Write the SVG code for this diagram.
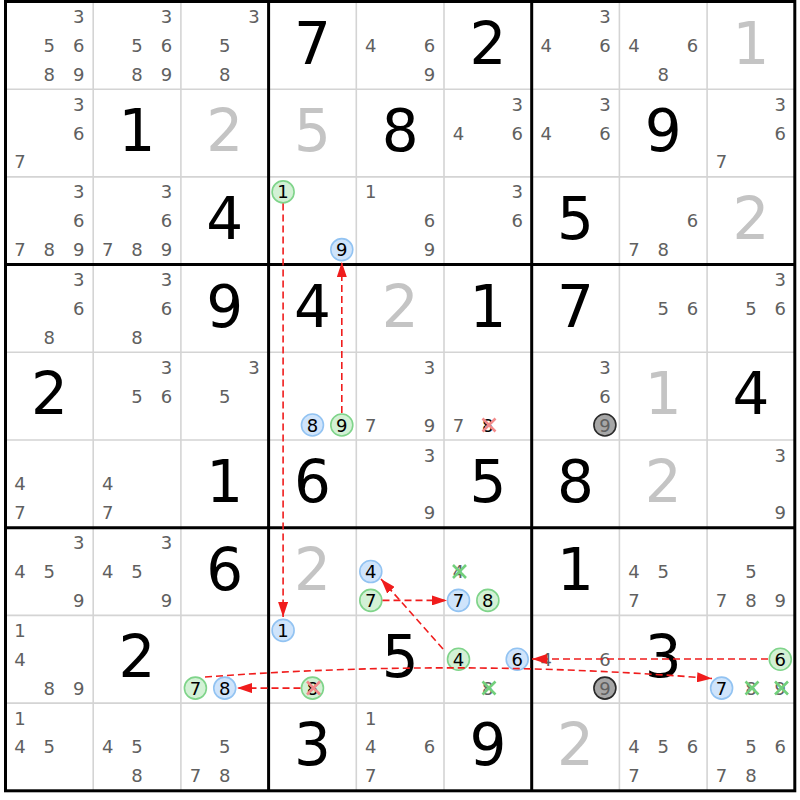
<svg xmlns="http://www.w3.org/2000/svg" width="800" height="800" viewBox="0 0 800 800">
<style>
text{font-family:"DejaVu Sans","Liberation Sans",sans-serif;text-anchor:middle}
.g{font-size:58px;fill:#000}
.s{font-size:58px;fill:#c4c4c4}
.c{font-size:18px;fill:#606060}
.k{font-size:18px;fill:#000}
.thin{stroke:#d4d4d4;stroke-width:1.6}
.thick{stroke:#000;stroke-width:3}
.cb{fill:#cfe4fb;stroke:#92c3f2;stroke-width:1.6}
.cg{fill:#d3f1d5;stroke:#7fd48a;stroke-width:1.6}
.cx{fill:#a6a6a6;stroke:#2a2a2a;stroke-width:1.6}
.xg{stroke:#72d07c;stroke-width:2.6}
.xr{stroke:#f28a8a;stroke-width:2.6}
.ar{fill:none;stroke:#f01c1c;stroke-width:1.6;stroke-dasharray:7,4}
</style>
<defs>
<marker id="ah" markerUnits="userSpaceOnUse" markerWidth="15" markerHeight="10" refX="15" refY="5" orient="auto"><path d="M0,0 L15,5 L0,10 z" fill="#f01c1c"/></marker>
</defs>
<rect width="800" height="800" fill="#fff"/>
<g id="grid">
<path class="thin" d="M93.2,1.5V790.8M180.9,1.5V790.8M356.3,1.5V790.8M444,1.5V790.8M619.4,1.5V790.8M707.1,1.5V790.8M5.5,89.2H794.8M5.5,176.9H794.8M5.5,352.3H794.8M5.5,440H794.8M5.5,615.4H794.8M5.5,703.1H794.8"/>
<path class="thick" d="M268.6,1.5V790.8M531.7,1.5V790.8M5.5,264.6H794.8M5.5,527.7H794.8"/>
<rect x="5.5" y="1.5" width="789.3" height="789.3" fill="none" stroke="#000" stroke-width="3"/>
</g>
<g id="r1c1"><text class="c" x="78.7" y="23">3</text><text class="c" x="49.35" y="51.85">5</text><text class="c" x="78.7" y="51.85">6</text><text class="c" x="49.35" y="80.7">8</text><text class="c" x="78.7" y="80.7">9</text></g>
<g id="r1c2"><text class="c" x="166.4" y="23">3</text><text class="c" x="137.05" y="51.85">5</text><text class="c" x="166.4" y="51.85">6</text><text class="c" x="137.05" y="80.7">8</text><text class="c" x="166.4" y="80.7">9</text></g>
<g id="r1c3"><text class="c" x="254.1" y="23">3</text><text class="c" x="224.75" y="51.85">5</text><text class="c" x="224.75" y="80.7">8</text></g>
<g id="r1c4"><text class="g" x="312.45" y="63.5">7</text></g>
<g id="r1c5"><text class="c" x="370.8" y="51.85">4</text><text class="c" x="429.5" y="51.85">6</text><text class="c" x="429.5" y="80.7">9</text></g>
<g id="r1c6"><text class="g" x="487.85" y="63.5">2</text></g>
<g id="r1c7"><text class="c" x="604.9" y="23">3</text><text class="c" x="546.2" y="51.85">4</text><text class="c" x="604.9" y="51.85">6</text></g>
<g id="r1c8"><text class="c" x="633.9" y="51.85">4</text><text class="c" x="692.6" y="51.85">6</text><text class="c" x="663.25" y="80.7">8</text></g>
<g id="r1c9"><text class="s" x="750.95" y="63.5">1</text></g>

<g id="r2c1"><text class="c" x="78.7" y="110.7">3</text><text class="c" x="78.7" y="139.55">6</text><text class="c" x="20" y="168.4">7</text></g>
<g id="r2c2"><text class="g" x="137.05" y="151.2">1</text></g>
<g id="r2c3"><text class="s" x="224.75" y="151.2">2</text></g>
<g id="r2c4"><text class="s" x="312.45" y="151.2">5</text></g>
<g id="r2c5"><text class="g" x="400.15" y="151.2">8</text></g>
<g id="r2c6"><text class="c" x="517.2" y="110.7">3</text><text class="c" x="458.5" y="139.55">4</text><text class="c" x="517.2" y="139.55">6</text></g>
<g id="r2c7"><text class="c" x="604.9" y="110.7">3</text><text class="c" x="546.2" y="139.55">4</text><text class="c" x="604.9" y="139.55">6</text></g>
<g id="r2c8"><text class="g" x="663.25" y="151.2">9</text></g>
<g id="r2c9"><text class="c" x="780.3" y="110.7">3</text><text class="c" x="780.3" y="139.55">6</text><text class="c" x="721.6" y="168.4">7</text></g>

<g id="r3c1"><text class="c" x="78.7" y="198.4">3</text><text class="c" x="78.7" y="227.25">6</text><text class="c" x="20" y="256.1">7</text><text class="c" x="49.35" y="256.1">8</text><text class="c" x="78.7" y="256.1">9</text></g>
<g id="r3c2"><text class="c" x="166.4" y="198.4">3</text><text class="c" x="166.4" y="227.25">6</text><text class="c" x="107.7" y="256.1">7</text><text class="c" x="137.05" y="256.1">8</text><text class="c" x="166.4" y="256.1">9</text></g>
<g id="r3c3"><text class="g" x="224.75" y="238.9">4</text></g>
<g id="r3c4"><circle class="cg" cx="283.1" cy="191.9" r="11"/><text class="k" x="283.1" y="198.4">1</text><circle class="cb" cx="341.8" cy="249.6" r="11"/><text class="k" x="341.8" y="256.1">9</text></g>
<g id="r3c5"><text class="c" x="370.8" y="198.4">1</text><text class="c" x="429.5" y="227.25">6</text><text class="c" x="429.5" y="256.1">9</text></g>
<g id="r3c6"><text class="c" x="517.2" y="198.4">3</text><text class="c" x="517.2" y="227.25">6</text></g>
<g id="r3c7"><text class="g" x="575.55" y="238.9">5</text></g>
<g id="r3c8"><text class="c" x="692.6" y="227.25">6</text><text class="c" x="633.9" y="256.1">7</text><text class="c" x="663.25" y="256.1">8</text></g>
<g id="r3c9"><text class="s" x="750.95" y="238.9">2</text></g>

<g id="r4c1"><text class="c" x="78.7" y="286.1">3</text><text class="c" x="78.7" y="314.95">6</text><text class="c" x="49.35" y="343.8">8</text></g>
<g id="r4c2"><text class="c" x="166.4" y="286.1">3</text><text class="c" x="166.4" y="314.95">6</text><text class="c" x="137.05" y="343.8">8</text></g>
<g id="r4c3"><text class="g" x="224.75" y="326.6">9</text></g>
<g id="r4c4"><text class="g" x="312.45" y="326.6">4</text></g>
<g id="r4c5"><text class="s" x="400.15" y="326.6">2</text></g>
<g id="r4c6"><text class="g" x="487.85" y="326.6">1</text></g>
<g id="r4c7"><text class="g" x="575.55" y="326.6">7</text></g>
<g id="r4c8"><text class="c" x="663.25" y="314.95">5</text><text class="c" x="692.6" y="314.95">6</text></g>
<g id="r4c9"><text class="c" x="780.3" y="286.1">3</text><text class="c" x="750.95" y="314.95">5</text><text class="c" x="780.3" y="314.95">6</text></g>

<g id="r5c1"><text class="g" x="49.35" y="414.3">2</text></g>
<g id="r5c2"><text class="c" x="166.4" y="373.8">3</text><text class="c" x="137.05" y="402.65">5</text><text class="c" x="166.4" y="402.65">6</text></g>
<g id="r5c3"><text class="c" x="254.1" y="373.8">3</text><text class="c" x="224.75" y="402.65">5</text></g>
<g id="r5c4"><circle class="cb" cx="312.45" cy="425" r="11"/><text class="k" x="312.45" y="431.5">8</text><circle class="cg" cx="341.8" cy="425" r="11"/><text class="k" x="341.8" y="431.5">9</text></g>
<g id="r5c5"><text class="c" x="429.5" y="373.8">3</text><text class="c" x="370.8" y="431.5">7</text><text class="c" x="429.5" y="431.5">9</text></g>
<g id="r5c6"><text class="c" x="458.5" y="431.5">7</text><text class="k" x="487.85" y="431.5">8</text><path class="xr" d="M482.5,418.5L495.5,431.5M495.5,418.5L482.5,431.5"/></g>
<g id="r5c7"><text class="c" x="604.9" y="373.8">3</text><text class="c" x="604.9" y="402.65">6</text><circle class="cx" cx="604.9" cy="425" r="11"/><text class="c" x="604.9" y="431.5">9</text></g>
<g id="r5c8"><text class="s" x="663.25" y="414.3">1</text></g>
<g id="r5c9"><text class="g" x="750.95" y="414.3">4</text></g>

<g id="r6c1"><text class="c" x="20" y="490.35">4</text><text class="c" x="20" y="519.2">7</text></g>
<g id="r6c2"><text class="c" x="107.7" y="490.35">4</text><text class="c" x="107.7" y="519.2">7</text></g>
<g id="r6c3"><text class="g" x="224.75" y="502">1</text></g>
<g id="r6c4"><text class="g" x="312.45" y="502">6</text></g>
<g id="r6c5"><text class="c" x="429.5" y="461.5">3</text><text class="c" x="429.5" y="519.2">9</text></g>
<g id="r6c6"><text class="g" x="487.85" y="502">5</text></g>
<g id="r6c7"><text class="g" x="575.55" y="502">8</text></g>
<g id="r6c8"><text class="s" x="663.25" y="502">2</text></g>
<g id="r6c9"><text class="c" x="780.3" y="461.5">3</text><text class="c" x="780.3" y="519.2">9</text></g>

<g id="r7c1"><text class="c" x="78.7" y="549.2">3</text><text class="c" x="20" y="578.05">4</text><text class="c" x="49.35" y="578.05">5</text><text class="c" x="78.7" y="606.9">9</text></g>
<g id="r7c2"><text class="c" x="166.4" y="549.2">3</text><text class="c" x="107.7" y="578.05">4</text><text class="c" x="137.05" y="578.05">5</text><text class="c" x="166.4" y="606.9">9</text></g>
<g id="r7c3"><text class="g" x="224.75" y="589.7">6</text></g>
<g id="r7c4"><text class="s" x="312.45" y="589.7">2</text></g>
<g id="r7c5"><circle class="cb" cx="370.8" cy="571.55" r="11"/><text class="k" x="370.8" y="578.05">4</text><circle class="cg" cx="370.8" cy="600.4" r="11"/><text class="k" x="370.8" y="606.9">7</text></g>
<g id="r7c6"><text class="c" x="458.5" y="578.05">4</text><path class="xg" d="M453,565L466,578M466,565L453,578"/><circle class="cb" cx="458.5" cy="600.4" r="11"/><text class="k" x="458.5" y="606.9">7</text><circle class="cg" cx="487.85" cy="600.4" r="11"/><text class="k" x="487.85" y="606.9">8</text></g>
<g id="r7c7"><text class="g" x="575.55" y="589.7">1</text></g>
<g id="r7c8"><text class="c" x="633.9" y="578.05">4</text><text class="c" x="663.25" y="578.05">5</text><text class="c" x="633.9" y="606.9">7</text></g>
<g id="r7c9"><text class="c" x="750.95" y="578.05">5</text><text class="c" x="721.6" y="606.9">7</text><text class="c" x="750.95" y="606.9">8</text><text class="c" x="780.3" y="606.9">9</text></g>

<g id="r8c1"><text class="c" x="20" y="636.9">1</text><text class="c" x="20" y="665.75">4</text><text class="c" x="49.35" y="694.6">8</text><text class="c" x="78.7" y="694.6">9</text></g>
<g id="r8c2"><text class="g" x="137.05" y="677.4">2</text></g>
<g id="r8c3"><circle class="cg" cx="195.4" cy="688.1" r="11"/><text class="k" x="195.4" y="694.6">7</text><circle class="cb" cx="224.75" cy="688.1" r="11"/><text class="k" x="224.75" y="694.6">8</text></g>
<g id="r8c4"><circle class="cb" cx="283.1" cy="630.4" r="11"/><text class="k" x="283.1" y="636.9">1</text><circle class="cg" cx="312.45" cy="688.1" r="11"/><text class="k" x="312.45" y="694.6">8</text><path class="xr" d="M307,681.5L320,694.5M320,681.5L307,694.5"/></g>
<g id="r8c5"><text class="g" x="400.15" y="677.4">5</text></g>
<g id="r8c6"><circle class="cg" cx="458.5" cy="659.25" r="11"/><text class="k" x="458.5" y="665.75">4</text><circle class="cb" cx="517.2" cy="659.25" r="11"/><text class="k" x="517.2" y="665.75">6</text><text class="c" x="487.85" y="694.6">8</text><path class="xg" d="M482.5,681.5L495.5,694.5M495.5,681.5L482.5,694.5"/></g>
<g id="r8c7"><text class="c" x="546.2" y="665.75">4</text><text class="c" x="604.9" y="665.75">6</text><circle class="cx" cx="604.9" cy="688.1" r="11"/><text class="c" x="604.9" y="694.6">9</text></g>
<g id="r8c8"><text class="g" x="663.25" y="677.4">3</text></g>
<g id="r8c9"><circle class="cg" cx="780.3" cy="659.25" r="11"/><text class="k" x="780.3" y="665.75">6</text><circle class="cb" cx="721.6" cy="688.1" r="11"/><text class="k" x="721.6" y="694.6">7</text><text class="c" x="750.95" y="694.6">8</text><path class="xg" d="M745.5,681.5L758.5,694.5M758.5,681.5L745.5,694.5"/><text class="c" x="780.3" y="694.6">9</text><path class="xg" d="M775,681.5L788,694.5M788,681.5L775,694.5"/></g>

<g id="r9c1"><text class="c" x="20" y="724.6">1</text><text class="c" x="20" y="753.45">4</text><text class="c" x="49.35" y="753.45">5</text></g>
<g id="r9c2"><text class="c" x="107.7" y="753.45">4</text><text class="c" x="137.05" y="753.45">5</text><text class="c" x="137.05" y="782.3">8</text></g>
<g id="r9c3"><text class="c" x="224.75" y="753.45">5</text><text class="c" x="195.4" y="782.3">7</text><text class="c" x="224.75" y="782.3">8</text></g>
<g id="r9c4"><text class="g" x="312.45" y="765.1">3</text></g>
<g id="r9c5"><text class="c" x="370.8" y="724.6">1</text><text class="c" x="370.8" y="753.45">4</text><text class="c" x="429.5" y="753.45">6</text><text class="c" x="370.8" y="782.3">7</text></g>
<g id="r9c6"><text class="g" x="487.85" y="765.1">9</text></g>
<g id="r9c7"><text class="s" x="575.55" y="765.1">2</text></g>
<g id="r9c8"><text class="c" x="633.9" y="753.45">4</text><text class="c" x="663.25" y="753.45">5</text><text class="c" x="692.6" y="753.45">6</text><text class="c" x="633.9" y="782.3">7</text></g>
<g id="r9c9"><text class="c" x="750.95" y="753.45">5</text><text class="c" x="780.3" y="753.45">6</text><text class="c" x="721.6" y="782.3">7</text><text class="c" x="750.95" y="782.3">8</text></g>

<g id="connectors">
<path class="ar" marker-end="url(#ah)" d="M283.1,203.5V617"/>
<path class="ar" marker-end="url(#ah)" d="M341.8,413V262"/>
<path class="ar" marker-end="url(#ah)" d="M382.5,600.4H447"/>
<path class="ar" marker-end="url(#ah)" d="M443,649L381,579"/>
<path class="ar" marker-end="url(#ah)" d="M768,659H532"/>
<path class="ar" marker-end="url(#ah)" d="M300.5,688.1H237"/>
<path class="ar" marker-end="url(#ah)" d="M205,677Q458,658 712,678.5"/>
</g>
</svg>
